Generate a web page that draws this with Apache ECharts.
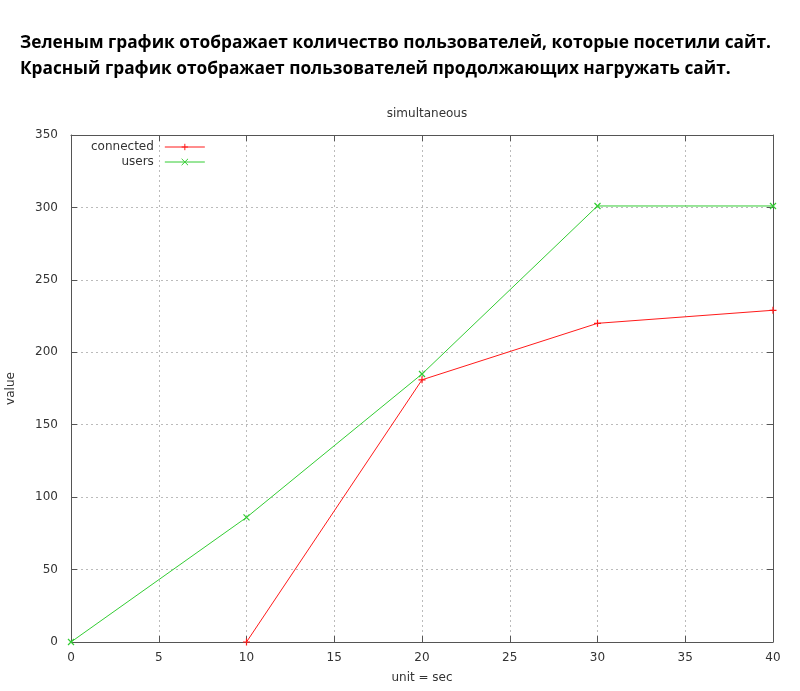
<!DOCTYPE html>
<html><head><meta charset="utf-8">
<script src="https://cdn.jsdelivr.net/npm/echarts@6/dist/echarts.min.js"></script>
<style>html,body{margin:0;padding:0;background:#fff}#c{width:800px;height:691px}</style>
</head><body><div id="c"></div>
<script>
const headingLines = [
  'Зеленым график отображает количество пользователей, которые посетили сайт.',
  'Красный график отображает пользователей продолжающих нагружать сайт.'
];
const chartTitle = 'simultaneous';
const xName = 'unit = sec';
const yName = 'value';
const connectedX = [10, 20, 30, 40];
const connectedY = [0, 181, 220, 229];
const usersX = [0, 10, 20, 30, 40];
const usersY = [0, 86, 185, 301, 301];

const plusPath = 'path://M0,5L10,5M5,0L5,10';
const crossPath = 'path://M0,0L10,10M10,0L0,10';
const labelFont = {fontFamily: 'DejaVu Sans', fontSize: 12, color: '#333'};
const RED = '#ff1a1a';
const GREEN = '#33cc33';

const chart = echarts.init(document.getElementById('c'));
chart.setOption({
  animation: false,
  title: [
    {text: headingLines[0], left: 15, top: 30, textStyle: {fontFamily: 'Open Sans', fontWeight: 'bold', fontSize: 17.3, color: '#000'}},
    {text: headingLines[1], left: 15, top: 56, textStyle: {fontFamily: 'Open Sans', fontWeight: 'bold', fontSize: 17.3, color: '#000'}},
    {text: chartTitle, left: 422, textAlign: 'center', top: 103, textStyle: {fontFamily: 'DejaVu Sans', fontWeight: 'normal', fontSize: 12, color: '#333'}}
  ],
  legend: {
    left: 86, top: 135, orient: 'vertical', align: 'right', itemGap: 1,
    itemWidth: 40, itemHeight: 8,
    lineStyle: {width: 1},
    itemStyle: {borderWidth: 1},
    textStyle: {fontFamily: 'DejaVu Sans', fontSize: 12, color: '#333', padding: [0, 6, 0, 0], lineHeight: 14},
    data: ['connected', 'users']
  },
  grid: {left: 71, right: 27, top: 135, bottom: 49, containLabel: false, outerBoundsMode: 'none'},
  xAxis: [{
    type: 'value', min: 0, max: 40, interval: 5,
    name: xName, nameLocation: 'middle', nameGap: 30, nameTextStyle: labelFont,
    axisLine: {show: true, lineStyle: {color: '#555'}},
    axisTick: {show: true, inside: true, length: 6, lineStyle: {color: '#555'}},
    axisLabel: Object.assign({margin: 10}, labelFont),
    splitLine: {show: true, lineStyle: {type: [2, 3], color: '#bbb'}}
  }, {
    type: 'value', min: 0, max: 40, interval: 5, position: 'top',
    axisLine: {show: true, onZero: false, lineStyle: {color: '#555'}},
    axisTick: {show: true, inside: true, length: 6, lineStyle: {color: '#555'}},
    axisLabel: {show: false}, splitLine: {show: false}
  }],
  yAxis: [{
    type: 'value', min: 0, max: 350, interval: 50,
    name: yName, nameLocation: 'middle', nameGap: 54, nameRotate: 90, nameTextStyle: labelFont,
    axisLine: {show: true, lineStyle: {color: '#555'}},
    axisTick: {show: true, inside: true, length: 6, lineStyle: {color: '#555'}},
    axisLabel: Object.assign({margin: 13}, labelFont),
    splitLine: {show: true, lineStyle: {type: [2, 3], color: '#bbb'}}
  }, {
    type: 'value', min: 0, max: 350, interval: 50, position: 'right',
    axisLine: {show: true, onZero: false, lineStyle: {color: '#555'}},
    axisTick: {show: true, inside: true, length: 6, lineStyle: {color: '#555'}},
    axisLabel: {show: false}, splitLine: {show: false}
  }],
  series: [
    {name: 'connected', type: 'line', data: connectedX.map((x, i) => [x, connectedY[i]]),
     color: RED, lineStyle: {width: 1, color: RED}, symbol: plusPath, symbolSize: 7, showSymbol: true,
     itemStyle: {color: 'transparent', borderColor: RED, borderWidth: 1.2}},
    {name: 'users', type: 'line', data: usersX.map((x, i) => [x, usersY[i]]),
     color: GREEN, lineStyle: {width: 1, color: GREEN}, symbol: crossPath, symbolSize: 6, showSymbol: true,
     itemStyle: {color: 'transparent', borderColor: GREEN, borderWidth: 1.2}}
  ]
});
</script></body></html>
